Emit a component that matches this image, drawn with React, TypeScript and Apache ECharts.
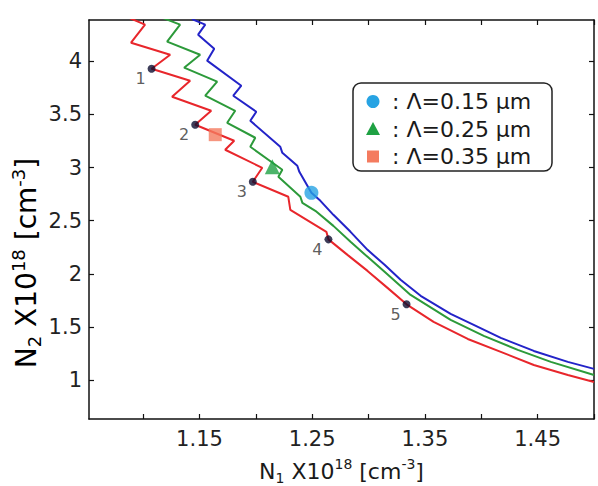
import React, { useEffect, useRef } from "react";
import * as echarts from "echarts";

// Axis extents (units of 10^18 cm^-3)
const X_MIN = 1.052;
const X_MAX = 1.5;
const Y_MIN = 0.632;
const Y_MAX = 4.39;

const xTickValues = [1.1, 1.15, 1.2, 1.25, 1.3, 1.35, 1.4, 1.45, 1.5];
const xLabelValues = [1.15, 1.25, 1.35, 1.45];
const yTickValues = [1, 1.5, 2, 2.5, 3, 3.5, 4];

// Boundary curves N2(N1) for the three grating periods
const redCurve: [number, number][] = [
  [1.0831, 4.431], [1.1017, 4.346], [1.0893, 4.176], [1.124, 4.063],
  [1.1075, 3.931], [1.1417, 3.818], [1.1257, 3.667], [1.1604, 3.535],
  [1.1462, 3.403], [1.1808, 3.253], [1.1728, 3.168], [1.2057, 2.998],
  [1.1973, 2.866], [1.2288, 2.725], [1.2306, 2.602], [1.2626, 2.395],
  [1.2644, 2.324], [1.2813, 2.178], [1.2991, 2.027], [1.3168, 1.867],
  [1.3337, 1.712], [1.3577, 1.547], [1.388, 1.386], [1.4173, 1.264],
  [1.4466, 1.141], [1.4768, 1.047], [1.5, 0.981],
];

const greenCurve: [number, number][] = [
  [1.1124, 4.431], [1.1328, 4.346], [1.1213, 4.186], [1.1506, 4.063],
  [1.1364, 3.941], [1.1657, 3.809], [1.1551, 3.677], [1.1817, 3.535],
  [1.1746, 3.422], [1.1995, 3.281], [1.1951, 3.196], [1.2235, 2.979],
  [1.22, 2.913], [1.2395, 2.725], [1.2413, 2.668], [1.2528, 2.593],
  [1.2688, 2.451], [1.284, 2.301], [1.2991, 2.159], [1.3142, 2.018],
  [1.3373, 1.801], [1.3728, 1.566], [1.4022, 1.415], [1.4324, 1.283],
  [1.4617, 1.17], [1.5, 1.047],
];

const blueCurve: [number, number][] = [
  [1.1417, 4.45], [1.1444, 4.393], [1.1551, 4.346], [1.1488, 4.252],
  [1.1631, 4.12], [1.1568, 4.007], [1.1871, 3.771], [1.18, 3.677],
  [1.2004, 3.526], [1.1951, 3.441], [1.2217, 3.196], [1.2235, 3.139],
  [1.2368, 3.017], [1.2386, 2.96], [1.2493, 2.762], [1.2573, 2.687],
  [1.2688, 2.555], [1.284, 2.395], [1.2991, 2.225], [1.3142, 2.084],
  [1.3284, 1.943], [1.3462, 1.792], [1.3728, 1.622], [1.3933, 1.518],
  [1.4173, 1.396], [1.4466, 1.273], [1.4768, 1.17], [1.5, 1.104],
];

// Numbered operating points on the red curve
const markedPoints: [number, number][] = [
  [1.1075, 3.931], [1.1462, 3.403], [1.1973, 2.866], [1.2644, 2.324], [1.3337, 1.712],
];
const markedLabels = ["1", "2", "3", "4", "5"];

// Design points for each period
const periodNames = ["Λ=0.15 μm", "Λ=0.25 μm", "Λ=0.35 μm"];
const periodPoints: [number, number][] = [
  [1.2493, 2.762], [1.2146, 3.007], [1.164, 3.31],
];
const periodColors = ["#27a3e3", "#1fa143", "#f47b5f"];
const periodSymbols = ["circle", "triangle", "rect"];
const periodSizes = [14, 15, 13];

const FONT = "DejaVu Sans";
const INK = "#1a1a1a";

const makeRich = (main: number, small: number) => ({
  b: { fontSize: main, fontFamily: FONT, color: INK, lineHeight: main + 6 },
  sub: { fontSize: small, fontFamily: FONT, color: INK, lineHeight: small, verticalAlign: "bottom" },
  sup: { fontSize: small, fontFamily: FONT, color: INK, lineHeight: small, verticalAlign: "top" },
});

export default function App() {
  const ref = useRef<HTMLDivElement>(null);

  useEffect(() => {
    if (!ref.current) return;
    const chart = echarts.init(ref.current, undefined, { renderer: "svg" });

    const axisLine = { show: true, lineStyle: { color: "#111", width: 1.5 } };
    const tickStyle = { color: "#111", width: 1.2 };

    const ICON_X = 373;
    const legendRows = periodNames.map((name, i) => {
      const cy = 101.5 + i * 27.5;
      let icon: any;
      if (i === 0) {
        icon = { type: "circle", shape: { cx: ICON_X, cy, r: 6.5 }, style: { fill: periodColors[0] } };
      } else if (i === 1) {
        icon = {
          type: "polygon",
          shape: { points: [[ICON_X, cy - 7], [ICON_X - 7, cy + 6], [ICON_X + 7, cy + 6]] },
          style: { fill: periodColors[1] },
        };
      } else {
        icon = {
          type: "rect",
          shape: { x: ICON_X - 6, y: cy - 6, width: 12, height: 12 },
          style: { fill: periodColors[2] },
        };
      }
      return [
        icon,
        {
          type: "text",
          x: 392,
          y: cy,
          style: {
            text: ": " + name,
            font: `22px "${FONT}"`,
            fill: INK,
            verticalAlign: "middle",
            align: "left",
          },
        },
      ];
    });

    chart.setOption({
      animation: false,
      backgroundColor: "#ffffff",
      grid: { left: 89, right: 4, top: 20, bottom: 67, outerBoundsMode: "none" },
      xAxis: [
        {
          type: "value",
          position: "bottom",
          min: X_MIN,
          max: X_MAX,
          axisLine,
          splitLine: { show: false },
          axisTick: { show: true, inside: true, length: 5, lineStyle: tickStyle, customValues: xTickValues },
          axisLabel: {
            show: true,
            customValues: xLabelValues,
            formatter: (v: number) => v.toFixed(2),
            fontFamily: FONT,
            fontSize: 21,
            color: "#222",
            margin: 9,
          },
          name: "{b|N}{sub|1}{b| X10}{sup|18}{b| [cm}{sup|-3}{b|]}",
          nameLocation: "middle",
          nameGap: 38,
          nameTextStyle: { rich: makeRich(22, 14) },
        },
        {
          type: "value",
          position: "top",
          min: X_MIN,
          max: X_MAX,
          axisLine,
          splitLine: { show: false },
          axisTick: { show: true, inside: true, length: 5, lineStyle: tickStyle, customValues: xTickValues },
          axisLabel: { show: false },
        },
      ],
      yAxis: [
        {
          type: "value",
          position: "left",
          min: Y_MIN,
          max: Y_MAX,
          axisLine,
          splitLine: { show: false },
          axisTick: { show: true, inside: true, length: 5, lineStyle: tickStyle, customValues: yTickValues },
          axisLabel: {
            show: true,
            customValues: yTickValues,
            formatter: (v: number) => String(v),
            fontFamily: FONT,
            fontSize: 21,
            color: "#222",
            margin: 7,
          },
        },
        {
          type: "value",
          position: "right",
          min: Y_MIN,
          max: Y_MAX,
          axisLine,
          splitLine: { show: false },
          axisTick: { show: true, inside: true, length: 5, lineStyle: tickStyle, customValues: yTickValues },
          axisLabel: { show: false },
        },
      ],
      series: [
        {
          name: "Λ=0.35 μm curve",
          type: "line",
          data: redCurve,
          showSymbol: false,
          symbol: "none",
          clip: true,
          lineStyle: { color: "#e8262b", width: 2 },
          z: 2,
        },
        {
          name: "Λ=0.25 μm curve",
          type: "line",
          data: greenCurve,
          showSymbol: false,
          symbol: "none",
          clip: true,
          lineStyle: { color: "#2c9a3a", width: 2 },
          z: 2,
        },
        {
          name: "Λ=0.15 μm curve",
          type: "line",
          data: blueCurve,
          showSymbol: false,
          symbol: "none",
          clip: true,
          lineStyle: { color: "#2323c8", width: 2 },
          z: 2,
        },
        {
          name: "points",
          type: "scatter",
          data: markedPoints,
          symbol: "circle",
          symbolSize: 8,
          itemStyle: { color: "#0c0c30" },
          z: 4,
          label: {
            show: true,
            position: "inside",
            offset: [-11, 10],
            formatter: (p: any) => markedLabels[p.dataIndex],
            fontFamily: FONT,
            fontSize: 16,
            color: "#333",
          },
        },
        ...periodNames.map((name, i) => ({
          name,
          type: "scatter",
          data: [periodPoints[i]],
          symbol: periodSymbols[i],
          symbolSize: periodSizes[i],
          itemStyle: { color: periodColors[i] },
          z: 5,
        })),
      ],
      graphic: [
        {
          type: "text",
          x: 26,
          y: 263,
          rotation: Math.PI / 2,
          style: {
            text: "{b|N}{sub|2}{b| X10}{sup|18}{b| [cm}{sup|-3}{b|]}",
            rich: makeRich(28, 18),
            align: "center",
            verticalAlign: "middle",
          },
        },
        {
          type: "rect",
          shape: { x: 353, y: 83, width: 199, height: 88, r: 8 },
          style: { fill: "#ffffff", stroke: "#222", lineWidth: 1.5 },
          z: 10,
        },
        ...legendRows.flat().map((el: any) => ({ ...el, z: 11 })),
      ],
    });

    return () => chart.dispose();
  }, []);

  return (
    <div
      ref={ref}
      style={{ position: "fixed", left: 0, top: 0, width: 598, height: 486, background: "#fff" }}
    />
  );
}
